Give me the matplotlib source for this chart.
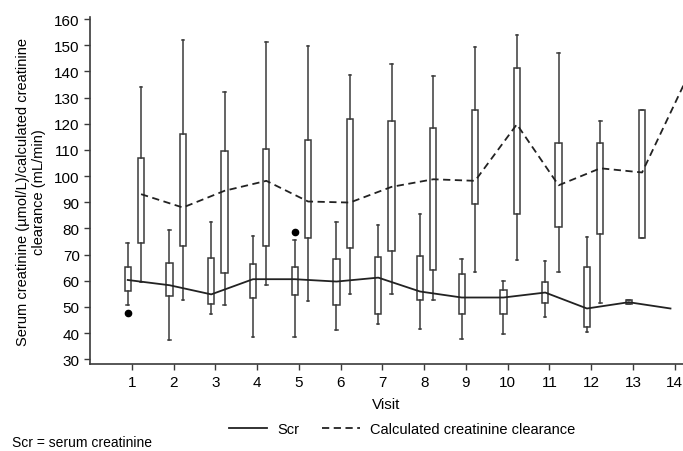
import matplotlib
matplotlib.use("Agg")
import matplotlib.pyplot as plt
from matplotlib.lines import Line2D

plt.rcParams['font.family'] = ['Liberation Sans', 'DejaVu Sans']

visits = list(range(1, 15))
box_visits = list(range(1, 14))

# Serum creatinine (Scr)
scr_mean = [60.3, 58.3, 54.8, 60.6, 60.6, 59.7, 61.2, 55.9, 53.6, 53.6, 55.5, 49.4, 51.8, 49.4]
scr_q1 = [56.1, 54.2, 51.3, 53.4, 54.5, 50.8, 47.2, 52.7, 47.2, 47.2, 51.4, 42.5, 51.0]
scr_q3 = [65.4, 66.7, 68.6, 66.4, 65.4, 68.5, 69.1, 69.3, 62.5, 56.5, 59.6, 65.3, 52.5]
scr_lo = [50.6, 37.4, 47.2, 38.5, 38.5, 41.2, 43.4, 41.5, 37.6, 39.6, 46.2, 40.4, 51.0]
scr_hi = [74.5, 79.4, 82.5, 77.2, 75.6, 82.6, 81.2, 85.7, 68.3, 60.0, 67.6, 76.9, 52.5]
scr_outliers = {1: [47.5], 5: [78.7]}

# Calculated creatinine clearance
crcl_mean = [93.1, 88.0, 94.4, 98.2, 90.3, 89.9, 95.9, 98.8, 98.2, 119.8, 96.5, 103.0, 101.4, 135.0]
crcl_q1 = [74.6, 73.3, 63.1, 73.3, 76.3, 72.7, 71.4, 64.2, 89.2, 85.4, 80.7, 77.8, 76.5]
crcl_q3 = [106.8, 116.0, 109.6, 110.3, 113.8, 121.7, 120.9, 118.3, 125.2, 141.5, 112.6, 112.5, 125.3]
crcl_lo = [59.6, 52.7, 50.6, 58.3, 52.3, 54.8, 55.1, 52.7, 63.3, 68.0, 63.4, 51.6, 76.5]
crcl_hi = [133.9, 151.9, 132.3, 151.1, 149.8, 138.7, 143.0, 138.1, 149.2, 154.0, 146.9, 121.1, 125.3]

yticks = list(range(30, 161, 10))

fig = plt.figure(figsize=(6.83, 4.52), dpi=100)
ax = fig.add_axes([0.132, 0.192, 0.868, 0.768])

col = '#3a3a3a'
scr_off = -0.1
crcl_off = 0.22
w = 0.15


def stats(q1, q3, lo, hi, means, outl):
    out = []
    for i, v in enumerate(box_visits):
        out.append(dict(med=means[i], q1=q1[i], q3=q3[i], whislo=lo[i], whishi=hi[i],
                        fliers=outl.get(v, [])))
    return out

common = dict(widths=w, showfliers=True, patch_artist=True,
              boxprops=dict(facecolor='white', edgecolor=col, linewidth=1.1),
              whiskerprops=dict(color=col, linewidth=1.1),
              capprops=dict(color=col, linewidth=1.1),
              medianprops=dict(visible=False),
              flierprops=dict(marker='o', markerfacecolor='black', markeredgecolor='black', markersize=4.5),
              capwidths=0.06, manage_ticks=False)

ax.bxp(stats(scr_q1, scr_q3, scr_lo, scr_hi, scr_mean, scr_outliers),
       positions=[v + scr_off for v in box_visits], **common)
ax.bxp(stats(crcl_q1, crcl_q3, crcl_lo, crcl_hi, crcl_mean, {}),
       positions=[v + crcl_off for v in box_visits], **common)

ax.plot([v + scr_off for v in visits], scr_mean, color='#222222', lw=1.3, ls='-', zorder=3)
ax.plot([v + crcl_off for v in visits], crcl_mean, color='#222222', lw=1.3, ls=(0, (4, 2.5)), zorder=3)

ax.set_xlim(0, 14.2)
ax.set_ylim(28.1, 160.8)
ax.set_xticks(visits)
ax.set_xticklabels([str(v) for v in visits])
ax.set_yticks(yticks)
ax.tick_params(labelsize=11, length=4, width=1, color=col)
for s in ['top', 'right']:
    ax.spines[s].set_visible(False)
for s in ['left', 'bottom']:
    ax.spines[s].set_color(col)
    ax.spines[s].set_linewidth(1.2)

ax.set_xlabel('Visit', fontsize=11, labelpad=6)
ax.set_ylabel('Serum creatinine (µmol/L)/calculated creatinine\nclearance (mL/min)', fontsize=10.5, labelpad=6)

handles = [Line2D([], [], color='#222222', lw=1.3),
           Line2D([], [], color='#222222', lw=1.3, ls=(0, (4, 2.5)))]
fig.legend(handles, ['Scr', 'Calculated creatinine clearance'], loc='center',
           bbox_to_anchor=(0.589, 1 - 430 / 452), ncol=2, frameon=False, fontsize=10.5,
           handlelength=2.6, columnspacing=1.6, handletextpad=0.7)

fig.text(0.018, 0.004, 'Scr = serum creatinine', fontsize=10, va='bottom', ha='left')

fig.savefig('out.png', dpi=100)
